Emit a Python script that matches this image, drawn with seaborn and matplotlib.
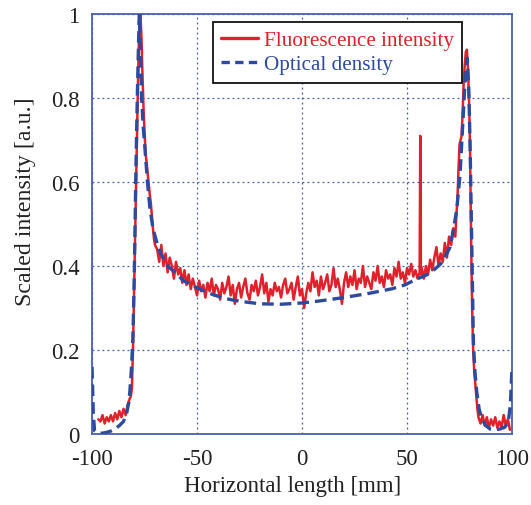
"""Scaled fluorescence intensity vs optical density across the horizontal axis."""

import matplotlib

matplotlib.use("Agg")

import pandas as pd
import seaborn as sns
from matplotlib import pyplot as plt
from matplotlib.lines import Line2D


RED = "#e0202a"
BLUE = "#2e4a9e"
FRAME = "#4d5fae"

# Fluorescence intensity (noisy trace)
fluor_x = [
    -97, -96, -95, -94, -93, -92, -91, -90, -89, -88, -87, -86, -85, -84, -83, -82,
    -81.5, -81, -80.5, -80, -79.5, -79, -78.5, -78, -77.5, -77, -76.5, -76, -75.5,
    -75, -74.5, -74, -73.5, -73, -72.5, -72, -71.5, -71, -70.5, -70,
    -69, -68, -67, -66, -65, -64, -63, -62, -61, -60, -59, -58, -57, -56, -55,
    -54, -53, -52, -51, -50, -49, -48, -47, -46, -45, -44, -43, -42, -41, -40,
    -39, -38, -37, -36, -35, -34, -33, -32, -31, -30, -29, -28, -27, -26, -25,
    -24, -23, -22, -21, -20, -19, -18, -17, -16, -15, -14, -13, -12, -11, -10,
    -9, -8, -7, -6, -5, -4, -3, -2, -1, 0, 1, 2, 3, 4, 5, 6, 7, 8, 9, 10,
    11, 12, 13, 14, 15, 16, 17, 18, 19, 20, 21, 22, 23, 24, 25, 26, 27, 28, 29, 30,
    31, 32, 33, 34, 35, 36, 37, 38, 39, 40, 41, 42, 43, 44, 45, 46, 47, 48, 49, 50,
    51, 52, 53, 54, 55, 56, 56.3, 56.6, 57, 58, 59, 60, 61, 62, 63, 64, 65, 66, 67,
    68, 69, 70, 71, 72, 73, 73.5, 74, 74.5, 75, 75.5, 76, 76.5, 77, 77.5, 78, 78.5,
    79, 79.5, 80, 80.5, 81, 81.5, 82, 82.5, 83, 83.5, 84, 85, 86, 87, 88, 89, 90,
    91, 92, 93, 94, 95, 96, 97, 98, 99,
]
fluor_y = [
    0.035, 0.03, 0.045, 0.025, 0.04, 0.03, 0.045, 0.03, 0.05, 0.035, 0.055, 0.04, 0.06, 0.045, 0.07, 0.085,
    0.09, 0.11, 0.2, 0.33, 0.47, 0.6, 0.74, 0.87, 0.97, 1.0, 0.95, 0.86, 0.78,
    0.72, 0.67, 0.645, 0.62, 0.595, 0.57, 0.55, 0.52, 0.49, 0.465, 0.45,
    0.44, 0.41, 0.45, 0.40, 0.43, 0.385, 0.42, 0.40, 0.37, 0.41, 0.38, 0.395, 0.36, 0.39, 0.355,
    0.38, 0.345, 0.37, 0.35, 0.33, 0.365, 0.34, 0.355, 0.325, 0.36, 0.34, 0.37, 0.33, 0.355, 0.345,
    0.32, 0.36, 0.335, 0.35, 0.375, 0.33, 0.355, 0.31, 0.345, 0.36, 0.325, 0.35, 0.37, 0.335, 0.32,
    0.355, 0.34, 0.365, 0.33, 0.35, 0.38, 0.335, 0.36, 0.315, 0.345, 0.33, 0.36, 0.34, 0.35, 0.325,
    0.355, 0.37, 0.335, 0.345, 0.36, 0.32, 0.35, 0.375, 0.33, 0.345, 0.30, 0.335, 0.36, 0.34, 0.385, 0.35, 0.365, 0.33, 0.375, 0.345,
    0.36, 0.38, 0.34, 0.355, 0.395, 0.35, 0.37, 0.345, 0.31, 0.36, 0.385, 0.35, 0.375, 0.355, 0.39, 0.345, 0.37, 0.36, 0.40, 0.35,
    0.375, 0.36, 0.345, 0.385, 0.365, 0.40, 0.36, 0.375, 0.35, 0.39, 0.37, 0.38, 0.355, 0.395, 0.375, 0.41, 0.37, 0.385, 0.36, 0.395,
    0.38, 0.405, 0.375, 0.39, 0.37, 0.385, 0.71, 0.38, 0.395, 0.37, 0.40, 0.38, 0.415, 0.39, 0.42, 0.445, 0.40, 0.43, 0.41,
    0.455, 0.42, 0.47, 0.45, 0.49, 0.47, 0.52, 0.56, 0.63, 0.69, 0.70, 0.71, 0.77, 0.84, 0.88, 0.91, 0.915,
    0.87, 0.8, 0.68, 0.47, 0.3, 0.2, 0.15, 0.12, 0.09, 0.06, 0.04, 0.025, 0.045, 0.02, 0.04, 0.015, 0.035,
    0.02, 0.04, 0.015, 0.03, 0.015, 0.045, 0.02, 0.035, 0.01,
]

# Optical density (smooth dashed trace)
density_x = [
    -100, -99.4, -98.8, -97, -95, -93, -91, -89, -87, -85, -83.5, -82.5, -82, -81.3,
    -80.6, -80.2, -79.8, -79.5, -79.2, -78.8, -78.4, -78, -77.5, -77, -76.4, -75.6,
    -74.8, -73.6, -72.5, -71, -69.2, -67.6, -64, -60, -56.5, -52, -48.6, -43, -37.6,
    -33, -28, -20, -10, 0, 7, 13, 20, 26, 31, 37, 43, 49, 54.6, 59, 62.4, 66, 68.9,
    70.5, 72.2, 73.7, 75.2, 76.5, 77.6, 78.7, 79.4, 80, 80.8, 81.6, 82.3, 83.2, 84.3,
    85.6, 87.5, 89.5, 92, 94.3, 96.5, 98.2, 99.2, 100,
]
density_y = [
    0.16, 0.05, 0.008, 0.002, 0.002, 0.004, 0.007, 0.012, 0.02, 0.03, 0.05, 0.075, 0.1, 0.15,
    0.22, 0.3, 0.4, 0.5, 0.6, 0.71, 0.81, 0.9, 1.0, 0.93, 0.8, 0.73,
    0.68, 0.6, 0.54, 0.49, 0.457, 0.433, 0.4, 0.383, 0.365, 0.353, 0.345, 0.333, 0.324,
    0.319, 0.315, 0.31, 0.309, 0.312, 0.316, 0.32, 0.325, 0.33, 0.334, 0.34, 0.346, 0.355, 0.369, 0.378, 0.389, 0.405, 0.429,
    0.445, 0.49, 0.536, 0.615, 0.734, 0.838, 0.895, 0.82, 0.695, 0.457, 0.219, 0.15, 0.1, 0.06,
    0.036, 0.02, 0.012, 0.01, 0.012, 0.016, 0.028, 0.07, 0.16,
]

x_ticks = [-100, -50, 0, 50, 100]
y_ticks = [0, 0.2, 0.4, 0.6, 0.8, 1]
y_tick_labels = ["0", "0.2", "0.4", "0.6", "0.8", "1"]

sns.set_theme(style="white")
plt.rcParams["font.family"] = ["Liberation Serif", "DejaVu Serif"]
plt.rcParams["axes.unicode_minus"] = False

fluor = pd.DataFrame({"x": fluor_x, "y": fluor_y})
density = pd.DataFrame({"x": density_x, "y": density_y})

fig = plt.figure(figsize=(5.31, 5.06), dpi=100)
ax = fig.add_axes([0.1733, 0.1403, 0.791, 0.830])

sns.lineplot(data=fluor, x="x", y="y", ax=ax, color=RED, linewidth=1.8,
             sort=False, estimator=None, zorder=3)
sns.lineplot(data=density, x="x", y="y", ax=ax, color=BLUE, linewidth=2.4,
             linestyle=(0, (3.5, 1.8)), sort=False, estimator=None, zorder=4)

ax.set_xlim(-100, 100)
ax.set_ylim(0, 1)
ax.set_xticks(x_ticks)
ax.set_xticklabels([str(t) for t in x_ticks])
ax.set_yticks(y_ticks)
ax.set_yticklabels(y_tick_labels)
ax.tick_params(axis="both", length=0, labelsize=16.5, colors="#222222")
ax.tick_params(axis="x", pad=10)
ax.tick_params(axis="y", pad=9)

ax.grid(True, color=BLUE, linestyle=(0, (1.5, 2.5)), linewidth=0.9, alpha=0.9)
for side in ("left", "right", "top", "bottom"):
    ax.spines[side].set_visible(True)
    ax.spines[side].set_color(FRAME)
    ax.spines[side].set_linewidth(1.3)

ax.set_xlabel("Horizontal length [mm]", fontsize=16.5, color="#222222")
ax.set_ylabel("Scaled intensity [a.u.]", fontsize=17.2, color="#222222")
ax.xaxis.set_label_coords(0.477, -0.097)
ax.yaxis.set_label_coords(-0.133, 0.555)

handles = [
    Line2D([], [], color=RED, linewidth=2.4),
    Line2D([], [], color=BLUE, linewidth=2.4, linestyle=(0, (2.5, 1.6))),
]
legend = ax.legend(
    handles,
    ["Fluorescence intensity", "Optical density"],
    loc="upper left",
    bbox_to_anchor=(0.288, 0.981),
    fontsize=15.2,
    frameon=True,
    fancybox=False,
    framealpha=1,
    edgecolor="#111111",
    borderpad=0.4,
    handlelength=1.75,
    handletextpad=0.25,
    labelspacing=0.2,
    borderaxespad=0,
    labelcolor=[RED, BLUE],
)
legend.get_frame().set_linewidth(1.3)

fig.savefig("out.png", dpi=100)
